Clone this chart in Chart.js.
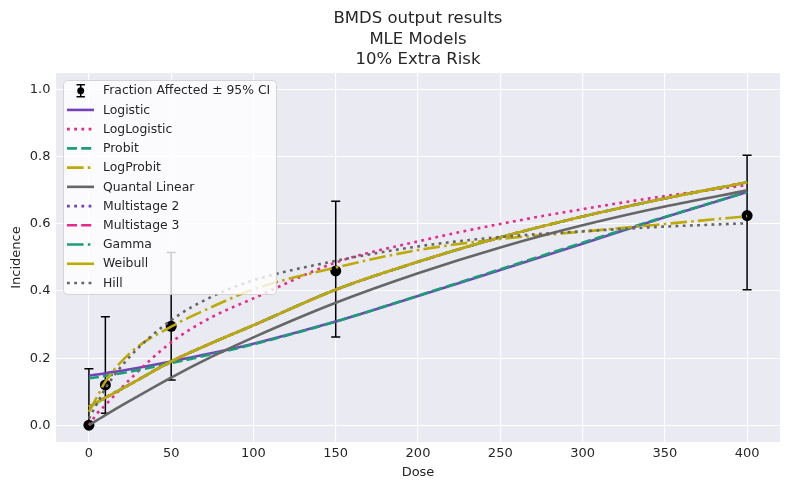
<!DOCTYPE html>
<html><head><meta charset="utf-8">
<script src="https://cdn.jsdelivr.net/npm/chart.js@4.4.0/dist/chart.umd.min.js"></script>
<style>html,body{margin:0;padding:0;background:#fff}#wrap{width:790px;height:490px}</style>
</head><body><div id="wrap"><canvas id="c" width="790" height="490"></canvas></div>
<script>
// ---- data ----
const obsDose = [0, 10, 50, 150, 400];
const obsIncidence = [0, 0.12, 0.295, 0.46, 0.625];
const ciLower = [0, 0.036, 0.135, 0.263, 0.404];
const ciUpper = [0.168, 0.323, 0.515, 0.668, 0.805];

const curveDose   = [0, 5, 10, 25, 50, 75, 100, 150, 200, 250, 300, 350, 400];
const logistic    = [0.148, 0.151, 0.155, 0.167, 0.190, 0.215, 0.243, 0.309, 0.385, 0.463, 0.541, 0.620, 0.695];
const logLogistic = [0.000, 0.035, 0.060, 0.137, 0.247, 0.323, 0.378, 0.485, 0.548, 0.600, 0.644, 0.683, 0.716];
const probit      = [0.140, 0.143, 0.147, 0.160, 0.185, 0.212, 0.241, 0.309, 0.386, 0.465, 0.544, 0.621, 0.695];
const logProbit   = [0.040, 0.085, 0.130, 0.215, 0.294, 0.353, 0.405, 0.470, 0.522, 0.555, 0.577, 0.600, 0.623];
const quantalLin  = [0.000, 0.015, 0.030, 0.073, 0.142, 0.205, 0.262, 0.365, 0.453, 0.530, 0.596, 0.652, 0.700];
const multistage2 = [0.055, 0.068, 0.082, 0.122, 0.190, 0.246, 0.298, 0.404, 0.487, 0.560, 0.622, 0.676, 0.724];
const multistage3 = [0.055, 0.068, 0.082, 0.122, 0.190, 0.246, 0.298, 0.404, 0.487, 0.560, 0.622, 0.676, 0.724];
const gamma       = [0.055, 0.068, 0.082, 0.122, 0.190, 0.246, 0.298, 0.404, 0.487, 0.560, 0.622, 0.676, 0.724];
const weibull     = [0.055, 0.068, 0.082, 0.122, 0.190, 0.246, 0.298, 0.404, 0.487, 0.560, 0.622, 0.676, 0.724];
const hill        = [0.020, 0.065, 0.110, 0.205, 0.313, 0.384, 0.432, 0.490, 0.533, 0.561, 0.578, 0.592, 0.602];

const xTicks = [0, 50, 100, 150, 200, 250, 300, 350, 400];
const yTicks = [0.0, 0.2, 0.4, 0.6, 0.8, 1.0];

const TXT = '#262626';
const FONT = "'DejaVu Sans', sans-serif";
const PURPLE = '#7442b8', PINK = '#e8298c', GREEN = '#1b9e77', YELLOW = '#bcab05', GRAY = '#666666';
const LW = 2.6;
const SOLID = [], DOTTED = [2.8, 4.4], DASHED = [10, 4.2], DASHDOT = [16.6, 4.2, 2.6, 4.2];

const models = [
  ['Logistic', logistic, PURPLE, SOLID],
  ['LogLogistic', logLogistic, PINK, DOTTED],
  ['Probit', probit, GREEN, DASHED],
  ['LogProbit', logProbit, YELLOW, DASHDOT],
  ['Quantal Linear', quantalLin, GRAY, SOLID],
  ['Multistage 2', multistage2, PURPLE, DOTTED],
  ['Multistage 3', multistage3, PINK, DASHED],
  ['Gamma', gamma, GREEN, DASHDOT],
  ['Weibull', weibull, YELLOW, SOLID],
  ['Hill', hill, GRAY, DOTTED]
];

const datasets = [{
  label: 'Fraction Affected \u00b1 95% CI',
  data: obsDose.map((d, i) => ({x: d, y: obsIncidence[i]})),
  showLine: false,
  pointRadius: 5.5,
  pointBackgroundColor: '#000',
  pointBorderWidth: 0,
  order: 100,
  isObs: true
}];
models.forEach((m, i) => {
  datasets.push({
    label: m[0],
    data: curveDose.map((d, j) => ({x: d, y: m[1][j]})),
    showLine: true,
    borderColor: m[2],
    backgroundColor: m[2],
    borderWidth: LW,
    borderDash: m[3],
    borderCapStyle: 'butt',
    cubicInterpolationMode: 'monotone',
    pointRadius: 0,
    pointHoverRadius: 0,
    fill: false,
    order: 50 - i
  });
});

const bgPlugin = {
  id: 'bg',
  beforeDraw(chart) {
    const {ctx, chartArea: a} = chart;
    ctx.save();
    ctx.fillStyle = '#eaeaf2';
    ctx.fillRect(a.left, a.top, a.right - a.left, a.bottom - a.top);
    ctx.restore();
  }
};

const errPlugin = {
  id: 'errbars',
  beforeDatasetsDraw(chart) {
    const {ctx, scales: {x, y}} = chart;
    ctx.save();
    ctx.strokeStyle = '#000';
    ctx.lineWidth = 1.5;
    obsDose.forEach((d, i) => {
      const px = x.getPixelForValue(d);
      const y1 = y.getPixelForValue(ciLower[i]);
      const y2 = y.getPixelForValue(ciUpper[i]);
      ctx.beginPath();
      ctx.moveTo(px, y1); ctx.lineTo(px, y2);
      ctx.moveTo(px - 4.5, y1); ctx.lineTo(px + 4.5, y1);
      ctx.moveTo(px - 4.5, y2); ctx.lineTo(px + 4.5, y2);
      ctx.stroke();
    });
    ctx.restore();
  }
};

const legendPlugin = {
  id: 'boxLegend',
  afterDraw(chart) {
    const ctx = chart.ctx;
    const x0 = 63.5, y0 = 80.5, w = 213, h = 214, r = 4;
    ctx.save();
    ctx.beginPath();
    ctx.moveTo(x0 + r, y0);
    ctx.lineTo(x0 + w - r, y0); ctx.arcTo(x0 + w, y0, x0 + w, y0 + r, r);
    ctx.lineTo(x0 + w, y0 + h - r); ctx.arcTo(x0 + w, y0 + h, x0 + w - r, y0 + h, r);
    ctx.lineTo(x0 + r, y0 + h); ctx.arcTo(x0, y0 + h, x0, y0 + h - r, r);
    ctx.lineTo(x0, y0 + r); ctx.arcTo(x0, y0, x0 + r, y0, r);
    ctx.closePath();
    ctx.fillStyle = 'rgba(255,255,255,0.8)';
    ctx.fill();
    ctx.strokeStyle = 'rgba(204,204,204,0.8)';
    ctx.lineWidth = 1;
    ctx.stroke();

    const rowH = 19.23, firstY = 90.7, lx1 = 67, lx2 = 94, tx = 103;
    ctx.font = '12.4px ' + FONT;
    ctx.textBaseline = 'middle';
    ctx.textAlign = 'left';
    chart.data.datasets.forEach((ds, i) => {
      const cy = firstY + i * rowH;
      if (ds.isObs) {
        const cx = 80.7;
        ctx.strokeStyle = '#000'; ctx.lineWidth = 1.5; ctx.setLineDash([]);
        ctx.beginPath();
        ctx.moveTo(cx, cy - 6); ctx.lineTo(cx, cy + 6);
        ctx.moveTo(cx - 4.2, cy - 6); ctx.lineTo(cx + 4.2, cy - 6);
        ctx.moveTo(cx - 4.2, cy + 6); ctx.lineTo(cx + 4.2, cy + 6);
        ctx.stroke();
        ctx.fillStyle = '#000';
        ctx.beginPath(); ctx.arc(cx, cy, 3.5, 0, Math.PI * 2); ctx.fill();
      } else {
        ctx.strokeStyle = ds.borderColor; ctx.lineWidth = LW;
        ctx.lineCap = 'butt';
        ctx.setLineDash(ds.borderDash);
        ctx.beginPath(); ctx.moveTo(lx1, cy); ctx.lineTo(lx2, cy); ctx.stroke();
        ctx.setLineDash([]);
      }
      ctx.fillStyle = TXT;
      ctx.fillText(ds.label, tx, cy + 0.5);
    });
    ctx.restore();
  }
};

new Chart(document.getElementById('c'), {
  type: 'scatter',
  data: {datasets},
  plugins: [bgPlugin, errPlugin, legendPlugin],
  options: {
    responsive: false,
    animation: false,
    devicePixelRatio: 1,
    layout: {padding: {left: 0, right: 10, top: 0, bottom: 0}},
    plugins: {
      legend: {display: false},
      tooltip: {enabled: false},
      title: {
        display: true,
        fullSize: false,
        text: ['BMDS output results', 'MLE Models', '10% Extra Risk'],
        color: TXT,
        font: {family: FONT, size: 16.5, weight: 'normal', lineHeight: 1.25},
        padding: {top: 8.5, bottom: 2.6}
      }
    },
    scales: {
      x: {
        type: 'linear',
        min: -20, max: 420,
        afterBuildTicks(s) { s.ticks = xTicks.map(v => ({value: v})); },
        afterFit(s) { s.height = 48; },
        grid: {color: '#ffffff', lineWidth: 1.1, drawTicks: false},
        border: {display: false},
        ticks: {color: TXT, font: {family: FONT, size: 13}, padding: 4, maxRotation: 0, callback: v => String(v)},
        title: {display: true, text: 'Dose', color: TXT, font: {family: FONT, size: 13}, padding: {top: 0, bottom: 10}}
      },
      y: {
        type: 'linear',
        min: -0.05, max: 1.05,
        afterBuildTicks(s) { s.ticks = yTicks.map(v => ({value: v})); },
        afterFit(s) { s.width = 56; },
        grid: {color: '#ffffff', lineWidth: 1.1, drawTicks: false},
        border: {display: false},
        ticks: {color: TXT, font: {family: FONT, size: 13}, padding: 5.5, callback: v => Number(v).toFixed(1)},
        title: {display: true, text: 'Incidence', color: TXT, font: {family: FONT, size: 13}, padding: {top: 9, bottom: 0}}
      }
    }
  }
});
</script>
</body></html>
